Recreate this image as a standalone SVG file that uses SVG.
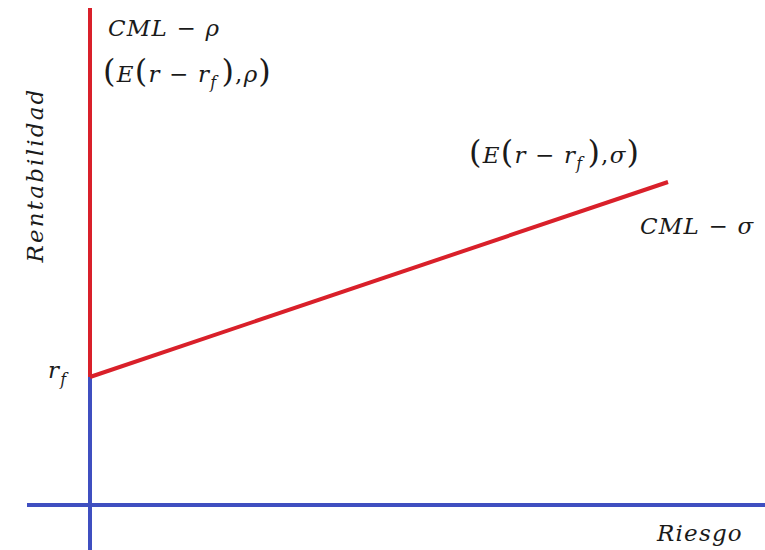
<svg xmlns="http://www.w3.org/2000/svg" width="765" height="550" viewBox="0 0 765 550">
<style>
.t{font-family:"DejaVu Serif","Liberation Serif",serif;font-style:italic;fill:#1a1a1a;font-size:23px;letter-spacing:1.2px}
.p{font-style:normal}
.red{stroke:#d9202a;stroke-width:4;fill:none}
.blue{stroke:#3f4fc0;stroke-width:4;fill:none}
</style>
<rect width="765" height="550" fill="#ffffff"/>
<g id="connectors">
<line class="blue" x1="90" y1="376" x2="90" y2="550"/>
<line class="blue" x1="27" y1="505" x2="765" y2="505"/>
<line class="red" x1="90" y1="8" x2="90" y2="377"/>
<line class="red" x1="90" y1="377" x2="668" y2="182"/>
</g>
<g id="labels">
<text class="t" x="108" y="36">CML <tspan class="p">−</tspan> ρ</text>
<text class="t" x="103" y="82"><tspan class="p" font-size="32">(</tspan>E<tspan class="p" font-size="32">(</tspan>r <tspan class="p">−</tspan> r<tspan font-size="16" dy="6">f</tspan><tspan class="p" font-size="32" dy="-6" dx="4">)</tspan><tspan class="p">,</tspan>ρ<tspan class="p" font-size="32">)</tspan></text>
<text class="t" x="469" y="163"><tspan class="p" font-size="32">(</tspan>E<tspan class="p" font-size="32">(</tspan>r <tspan class="p">−</tspan> r<tspan font-size="16" dy="6">f</tspan><tspan class="p" font-size="32" dy="-6" dx="4">)</tspan><tspan class="p">,</tspan>σ<tspan class="p" font-size="32">)</tspan></text>
<text class="t" x="640" y="234">CML <tspan class="p">−</tspan> σ</text>
<text class="t" x="48" y="378">r<tspan font-size="16" dy="7">f</tspan></text>
<text class="t" x="657" y="541">Riesgo</text>
<text class="t" transform="translate(43,175) rotate(-90)" text-anchor="middle" style="letter-spacing:2.2px">Rentabilidad</text>
</g>
</svg>
